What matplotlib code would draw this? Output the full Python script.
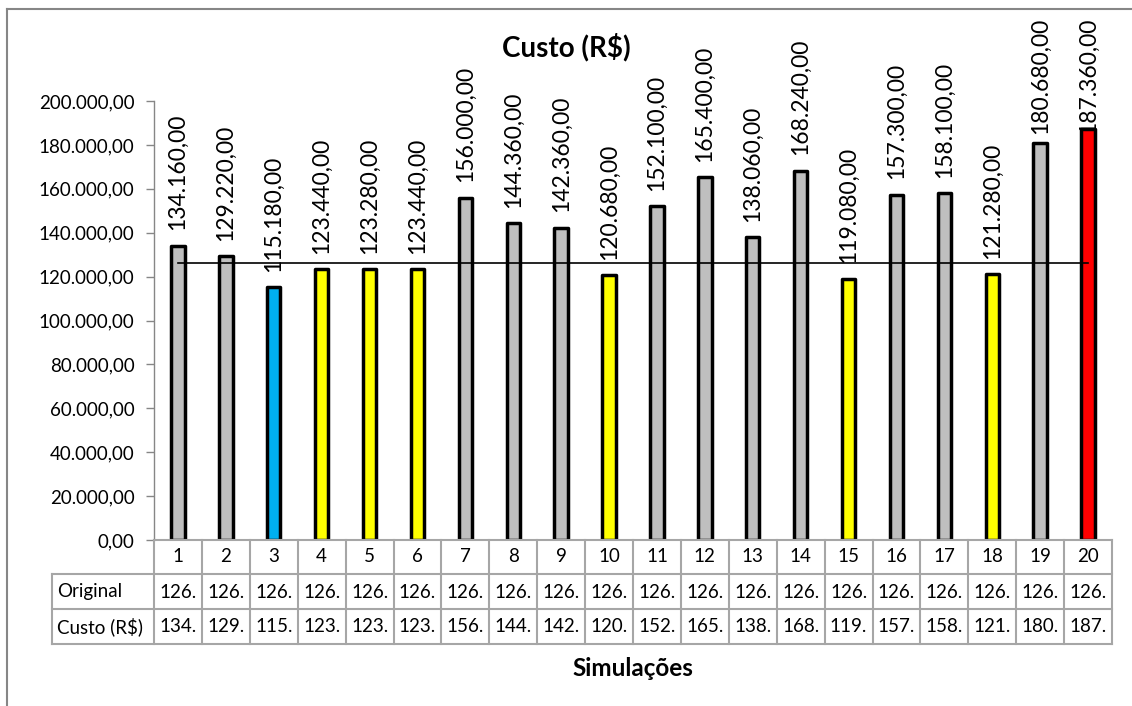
import matplotlib
matplotlib.use("Agg")
import matplotlib.pyplot as plt
from matplotlib.lines import Line2D
from matplotlib.ticker import FuncFormatter

plt.rcParams['font.family'] = ['Lato', 'DejaVu Sans']

# dados das simulacoes
simulacoes = list(range(1, 21))
custo = [134160, 129220, 115180, 123440, 123280, 123440, 156000, 144360, 142360, 120680,
         152100, 165400, 138060, 168240, 119080, 157300, 158100, 121280, 180680, 187360]
original = [126000] * 20


def brl(v):
    # 134160 -> "134.160,00"
    s = "{:,.2f}".format(v)
    return s.replace(",", "X").replace(".", ",").replace("X", ".")


# cor de cada barra: menor custo azul, maior vermelho, abaixo do original amarelo
cores = []
for c, o in zip(custo, original):
    if c == min(custo):
        cores.append("#00B0F0")
    elif c == max(custo):
        cores.append("#FF0000")
    elif c < o:
        cores.append("#FFFF00")
    else:
        cores.append("#BFBFBF")

W, H = 1132, 706
fig = plt.figure(figsize=(W / 100, H / 100), dpi=100)


def fx(px):
    return px / W


def fy(py):
    return 1 - py / H


x0, x1, ytop, ybase = 154, 1112, 101, 540
ax = fig.add_axes([fx(x0), fy(ybase), fx(x1) - fx(x0), fy(ytop) - fy(ybase)])

ax.bar(simulacoes, custo, width=0.28, color=cores, edgecolor="black", linewidth=2.5,
       joinstyle="round", zorder=2)
ax.plot(simulacoes, original, color="black", linewidth=1.2, zorder=3)

ax.set_xlim(0.5, 20.5)
ax.set_ylim(0, 200000)
ax.set_yticks(range(0, 200001, 20000))
ax.yaxis.set_major_formatter(FuncFormatter(lambda v, p: brl(v)))
ax.tick_params(axis="y", labelsize=13.5, length=6, width=1, color="#868686", pad=8)
ax.set_xticks([])
for s in ["top", "right", "bottom"]:
    ax.spines[s].set_visible(False)
ax.spines["left"].set_color("#868686")
ax.spines["left"].set_linewidth(1)

# rotulos de valor
rotulos = []
for x, v in zip(simulacoes, custo):
    t = ax.annotate(brl(v), xy=(x, v), xytext=(0, 11), textcoords="offset points",
                    rotation=90, ha="center", va="bottom", fontsize=16.5, zorder=1,
                    annotation_clip=False)
    rotulos.append(t)

fig.canvas.draw()
r = fig.canvas.get_renderer()
for t in rotulos:
    bb = t.get_window_extent(r)
    limite = H - 18
    if bb.y1 > limite:
        dy = (bb.y1 - limite) * 72 / 100
        t.xyann = (0, 11 - dy)

# tabela de dados
cinza = "#A6A6A6"
linhas = [540, 574, 609, 644]
col = (x1 - x0) / 20
lw = 1.5
fig.add_artist(Line2D([fx(x0), fx(x1)], [fy(540), fy(540)], color=cinza, lw=lw))
for y in linhas[1:]:
    fig.add_artist(Line2D([fx(52), fx(x1)], [fy(y), fy(y)], color=cinza, lw=lw))
for i in range(21):
    xc = x0 + i * col
    fig.add_artist(Line2D([fx(xc), fx(xc)], [fy(540), fy(644)], color=cinza, lw=lw))
fig.add_artist(Line2D([fx(52), fx(52)], [fy(574), fy(644)], color=cinza, lw=lw))

for i, (s, o, c) in enumerate(zip(simulacoes, original, custo)):
    xc = x0 + (i + 0.5) * col
    fig.text(fx(xc), fy(557), str(s), ha="center", va="center", fontsize=13.5)
    fig.text(fx(xc), fy(592), brl(o).split(".")[0] + ".", ha="center", va="center", fontsize=13.5)
    fig.text(fx(xc), fy(627), brl(c).split(".")[0] + ".", ha="center", va="center", fontsize=13.5)
fig.text(fx(57), fy(592), "Original", ha="left", va="center", fontsize=13.5)
fig.text(fx(57), fy(627), "Custo (R$)", ha="left", va="center", fontsize=13.5)

# titulos
fig.text(fx(566), fy(47), "Custo (R$)", ha="center", va="center", fontsize=20, fontweight="bold")
fig.text(fx(633), fy(668), "Simulações", ha="center", va="center", fontsize=17.5, fontweight="bold")

# borda da area do grafico
fig.add_artist(Line2D([fx(7), fx(7)], [fy(9), 0], color="#868686", lw=1.5))
fig.add_artist(Line2D([fx(7), 1], [fy(9), fy(9)], color="#868686", lw=1.5))

fig.savefig("out.png", dpi=100)
